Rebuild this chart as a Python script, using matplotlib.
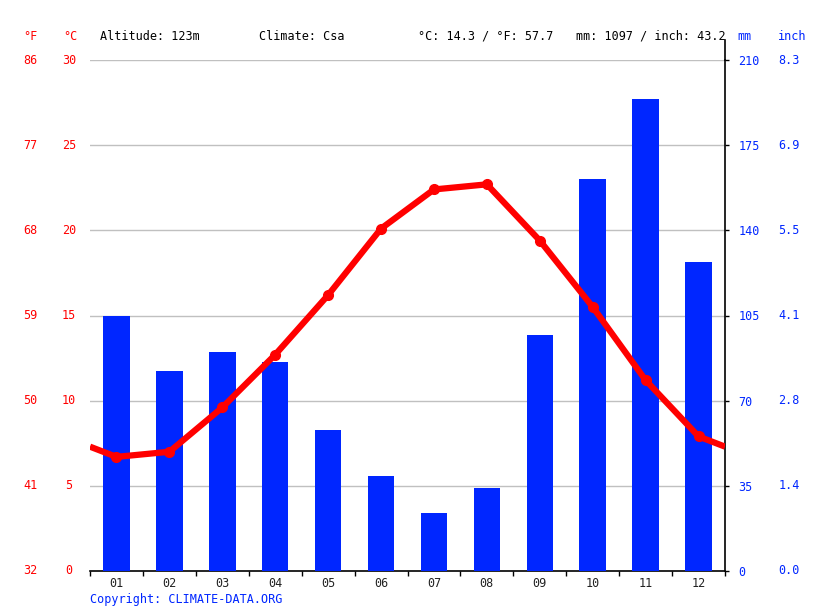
import matplotlib
matplotlib.use("Agg")
import matplotlib.pyplot as plt
import matplotlib.transforms as mtransforms
from matplotlib.lines import Line2D
import numpy as np

months = ["01", "02", "03", "04", "05", "06", "07", "08", "09", "10", "11", "12"]
temp_c = [6.7, 7.0, 9.6, 12.7, 16.2, 20.1, 22.4, 22.7, 19.4, 15.5, 11.2, 7.9]
precip_mm = [105, 82, 90, 86, 58, 39, 24, 34, 97, 161, 194, 127]

c_ticks = [0, 5, 10, 15, 20, 25, 30]
f_labels = ["32", "41", "50", "59", "68", "77", "86"]
mm_ticks = [0, 35, 70, 105, 140, 175, 210]
inch_labels = ["0.0", "1.4", "2.8", "4.1", "5.5", "6.9", "8.3"]

RED = "#ff0000"
BLUE = "#0026ff"
FONT = "DejaVu Sans Mono"
FS = 8.5

plt.rcParams['font.family'] = FONT

fig = plt.figure(figsize=(8.15, 6.11), dpi=100)
ax = fig.add_axes([90/815, 1-571/611, 635/815, 511/611])
ax2 = ax.twinx()

x = np.arange(len(months))

# precipitation bars (right axis)
ax2.bar(x, precip_mm, width=0.5, color=BLUE, zorder=2)
ax2.set_ylim(0, 210)
ax2.set_xlim(-0.5, 11.5)

# temperature line, wrapping to the edges (Dec/Jan midpoint)
edge = (temp_c[0] + temp_c[-1]) / 2
xl = np.concatenate([[-0.5], x, [11.5]])
yl = np.concatenate([[edge], temp_c, [edge]])
ax2.plot(xl, np.array(yl) * 7, color=RED, lw=4.5, zorder=3, solid_capstyle='butt')
ax2.plot(x, np.array(temp_c) * 7, 'o', color=RED, ms=7, zorder=4)

ax.set_ylim(0, 30)
ax.set_xlim(-0.5, 11.5)
for c in c_ticks[1:]:
    ax.axhline(c, color="#c0c0c0", lw=1, zorder=0)

# spines
for s in ["left", "top", "right"]:
    ax.spines[s].set_visible(False)
for s in ["left", "top", "bottom"]:
    ax2.spines[s].set_visible(False)
ax.spines["bottom"].set_color("black")
ax2.spines["right"].set_color("black")
ax2.spines["right"].set_linewidth(1.2)
ax.spines["bottom"].set_linewidth(1.2)

# x ticks: boundaries get ticks, centers get labels
ax.set_xticks(np.arange(-0.5, 12, 1))
ax.set_xticklabels([])
ax.tick_params(axis="x", direction="out", length=3.5, width=1, color="black")
ax.set_xticks(x, minor=True)
ax.set_xticklabels(months, minor=True, fontsize=FS, color="#222222")
ax.tick_params(axis="x", which="minor", length=0, pad=4.5)
ax.set_yticks([])

# right mm axis
ax2.set_yticks(mm_ticks)
ax2.set_yticklabels([str(v) for v in mm_ticks], fontsize=FS, color=BLUE)
ax2.tick_params(axis="y", direction="out", length=3, width=1, pad=6.5)

# inch labels and left labels
tr_right = mtransforms.blended_transform_factory(fig.transFigure, ax2.transData)
for v, lab in zip(mm_ticks, inch_labels):
    ax2.text(789/815, v, lab, transform=tr_right, ha="center", va="center",
             fontsize=FS, color=BLUE)
tr_left = mtransforms.blended_transform_factory(fig.transFigure, ax.transData)
for c, f in zip(c_ticks, f_labels):
    ax.text(30/815, c, f, transform=tr_left, ha="center", va="center", fontsize=FS, color=RED)
    ax.text(69/815, c, str(c), transform=tr_left, ha="center", va="center", fontsize=FS, color=RED)

# extend right spine a bit above plot
fig.add_artist(Line2D([725/815, 725/815], [1-60/611, 1-40/611], color="black", lw=1.2))

# header
ty = 1 - 36/611
fig.text(30/815, ty, "°F", color=RED, fontsize=FS, ha="center", va="center")
fig.text(70/815, ty, "°C", color=RED, fontsize=FS, ha="center", va="center")
fig.text(745/815, ty, "mm", color=BLUE, fontsize=FS, ha="center", va="center")
fig.text(792/815, ty, "inch", color=BLUE, fontsize=FS, ha="center", va="center")
fig.text(100/815, ty, "Altitude: 123m", color="black", fontsize=FS, va="center")
fig.text(259/815, ty, "Climate: Csa", color="black", fontsize=FS, va="center")
fig.text(418/815, ty, "°C: 14.3 / °F: 57.7", color="black", fontsize=FS, va="center")
fig.text(576/815, ty, "mm: 1097 / inch: 43.2", color="black", fontsize=FS, va="center")

fig.text(90/815, 1 - 599/611, "Copyright: CLIMATE-DATA.ORG", color=BLUE, fontsize=FS, va="center")

fig.savefig("out.png", dpi=100)
